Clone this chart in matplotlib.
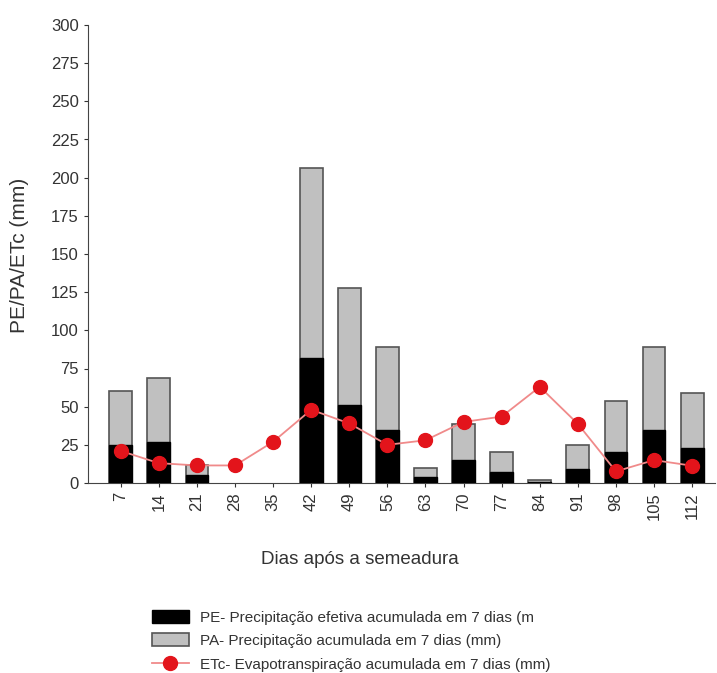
import numpy as np
import matplotlib
matplotlib.use("Agg")
import matplotlib.pyplot as plt

plt.rcParams['font.family'] = ['Liberation Sans', 'DejaVu Sans']

dias = [7, 14, 21, 28, 35, 42, 49, 56, 63, 70, 77, 84, 91, 98, 105, 112]
pa = [60, 69, 11.5, 0, 0, 206.5, 128, 89, 10, 38.5, 20, 2, 25, 54, 89, 59]
pe = [25, 27, 5, 0, 0, 82, 51, 35, 3.7, 15, 7, 0.5, 9.3, 20.6, 35, 23]
etc = [21, 13, 11.5, 11.5, 27, 48, 39, 25, 28, 40, 43.5, 63, 38.7, 7.6, 15, 11.3]

x = np.arange(len(dias))

fig = plt.figure(figsize=(7.17, 6.73), dpi=100)
ax = fig.add_axes([88/717, 1 - 483/673, (715 - 88)/717, (483 - 25)/673])

# barras com valor zero nao mostram contorno
lw_pa = [1.2 if v > 0 else 0 for v in pa]
lw_pe = [1.0 if v > 0 else 0 for v in pe]

b_pa = ax.bar(x, pa, width=0.6, color='#c0c0c0', edgecolor='#555555', linewidth=lw_pa,
              label='PA- Precipitação acumulada em 7 dias (mm)', zorder=2)
b_pe = ax.bar(x, pe, width=0.6, color='black', edgecolor='black', linewidth=lw_pe,
              label='PE- Precipitação efetiva acumulada em 7 dias (m', zorder=3)
l_etc, = ax.plot(x, etc, color='#f08a8a', linewidth=1.3, marker='o', markersize=10,
                 markerfacecolor='#e3141b', markeredgecolor='#e3141b',
                 label='ETc- Evapotranspiração acumulada em 7 dias (mm)', zorder=4)

ax.set_xlim(-0.86, 15.6)
ax.set_ylim(0, 300)
ax.set_yticks(np.arange(0, 301, 25))
ax.set_xticks(x)
ax.set_xticklabels([str(d) for d in dias], rotation=90)
ax.tick_params(axis='both', labelsize=12, length=3, width=0.8, colors='#333333')
ax.spines['top'].set_visible(False)
ax.spines['right'].set_visible(False)
ax.spines['left'].set_color('#444444')
ax.spines['bottom'].set_color('#444444')

fig.text(20/717, 1 - 255/673, 'PE/PA/ETc (mm)', rotation=90, ha='center', va='center',
         fontsize=15, color='#333333')
fig.text(360/717, 1 - 560/673, 'Dias após a semeadura', ha='center', va='center',
         fontsize=13.5, color='#333333')

leg = fig.legend([b_pe, b_pa, l_etc],
                 [b_pe.get_label(), b_pa.get_label(), l_etc.get_label()],
                 loc='upper left', bbox_to_anchor=(152/717, 1 - 610/673),
                 frameon=False, fontsize=11, handlelength=2.4, handleheight=0.9,
                 labelspacing=0.58, borderpad=0, borderaxespad=0, handletextpad=0.75)
for t in leg.get_texts():
    t.set_color('#333333')

fig.savefig('out.png', dpi=100)
